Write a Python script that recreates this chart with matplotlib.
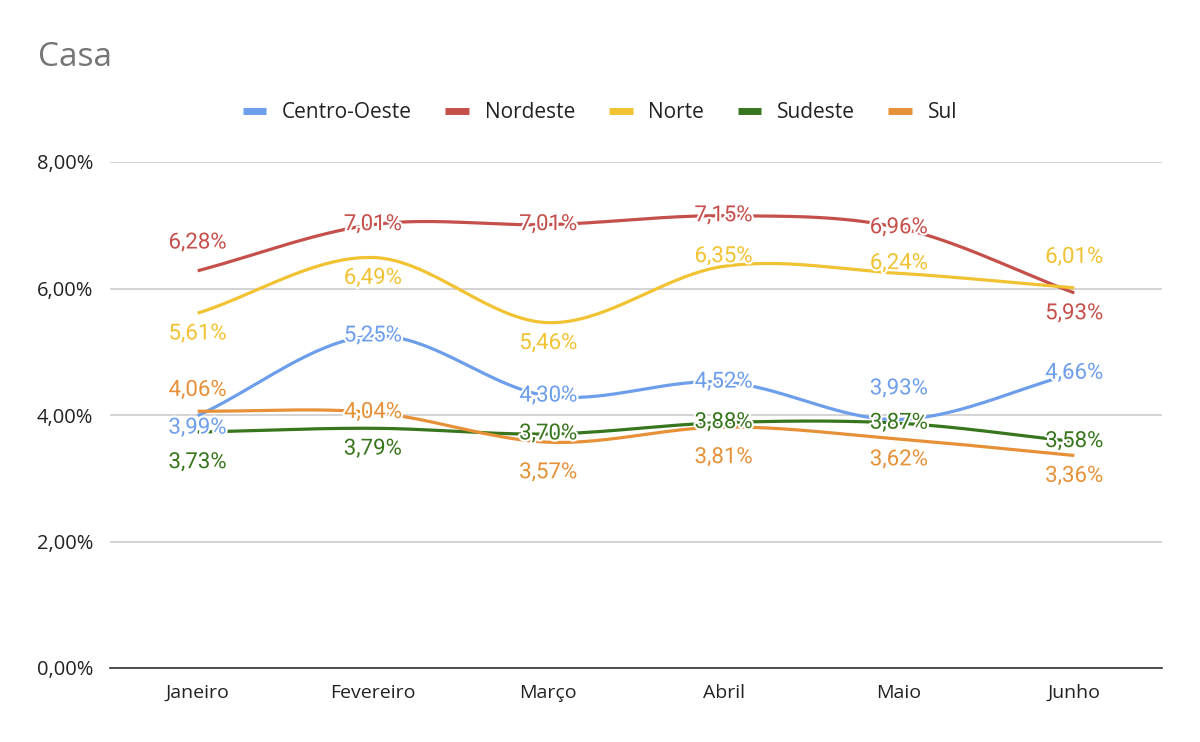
import numpy as np
import matplotlib.pyplot as plt
import matplotlib.patheffects as pe
from matplotlib.lines import Line2D

plt.rcParams['font.family'] = ['Roboto', 'DejaVu Sans']
ui_font = ['Open Sans', 'DejaVu Sans']

# Data
meses = ['Janeiro', 'Fevereiro', 'Março', 'Abril', 'Maio', 'Junho']
regioes = ['Centro-Oeste', 'Nordeste', 'Norte', 'Sudeste', 'Sul']
centro_oeste = [3.99, 5.25, 4.30, 4.52, 3.93, 4.66]
nordeste = [6.28, 7.01, 7.01, 7.15, 6.96, 5.93]
norte = [5.61, 6.49, 5.46, 6.35, 6.24, 6.01]
sudeste = [3.73, 3.79, 3.70, 3.88, 3.87, 3.58]
sul = [4.06, 4.04, 3.57, 3.81, 3.62, 3.36]
yticks = [0, 2, 4, 6, 8]

series = [centro_oeste, nordeste, norte, sudeste, sul]
cores = ['#6d9eeb', '#c5504b', '#f1c232', '#38761d', '#e69138']
# vertical label offsets in points (positive = up)
offsets = [
    [-9, 0, 0, 0, 22, 0],
    [20, 0, 0, 0, 0, -15],
    [-15, -15, -15, 7, 7, 22],
    [-22, -15, 0, 0, 0, 0],
    [15, 0, -22, -22, -15, -15],
]


def catmull(y, n=40):
    y = np.asarray(y, dtype=float)
    p = np.concatenate([[2 * y[0] - y[1]], y, [2 * y[-1] - y[-2]]])
    xs, ys = [], []
    for i in range(len(y) - 1):
        t = np.linspace(0, 1, n)
        p0, p1, p2, p3 = p[i], p[i + 1], p[i + 2], p[i + 3]
        m1 = (p2 - p0) / 2
        m2 = (p3 - p1) / 2
        h00 = 2 * t**3 - 3 * t**2 + 1
        h10 = t**3 - 2 * t**2 + t
        h01 = -2 * t**3 + 3 * t**2
        h11 = t**3 - t**2
        xs.append(i + t)
        ys.append(h00 * p1 + h10 * m1 + h01 * p2 + h11 * m2)
    return np.concatenate(xs), np.concatenate(ys)


fig = plt.figure(figsize=(12, 7.42), dpi=100)
ax = fig.add_axes([110 / 1200, 1 - 668 / 742, 1052 / 1200, 506 / 742])

x = np.arange(len(meses))
for vals, cor in zip(series, cores):
    xs, ys = catmull(vals)
    ax.plot(xs, ys, color=cor, lw=2.3, solid_capstyle='butt', zorder=3)
for vals, cor, offs in zip(series, cores, offsets):
    for xi, v, o in zip(x, vals, offs):
        ax.annotate(f'{v:.2f}%'.replace('.', ','), (xi, v), xytext=(0, o),
                    textcoords='offset points', ha='center', va='center',
                    fontsize=16, color=cor, zorder=5,
                    path_effects=[pe.withStroke(linewidth=3, foreground='white')])

ax.set_xlim(-0.5, len(meses) - 0.5)
ax.set_ylim(0, 8)
ax.set_yticks(yticks)
ax.set_yticklabels([f'{t:.2f}%'.replace('.', ',') for t in yticks],
                   fontsize=14.5, color='#222222', family=ui_font)
ax.set_xticks(x)
ax.set_xticklabels(meses, fontsize=14, color='#222222', family=ui_font)
ax.tick_params(axis='x', length=0, pad=11.5)
ax.tick_params(axis='y', length=0, pad=12)
ax.grid(axis='y', color='#cccccc', lw=1.2, zorder=0)
for s in ['top', 'right', 'left']:
    ax.spines[s].set_visible(False)
ax.spines['bottom'].set_color('#333333')
ax.spines['bottom'].set_linewidth(1.2)
ax.spines['bottom'].set_zorder(4)

fig.text(38 / 1200, 1 - 57 / 742, 'Casa', fontsize=24, color='#757575',
         family=ui_font, va='center', ha='left')

handles = [Line2D([], [], color=c, lw=5, solid_capstyle='butt') for c in cores]
fig.legend(handles, regioes, loc='center', bbox_to_anchor=(0.5, 1 - 113 / 742),
           ncol=5, frameon=False, prop={'family': ui_font, 'size': 15},
           handlelength=1.15, columnspacing=1.6, handletextpad=0.75,
           labelcolor='#222222')

fig.savefig('out.png', dpi=100, facecolor='white')
